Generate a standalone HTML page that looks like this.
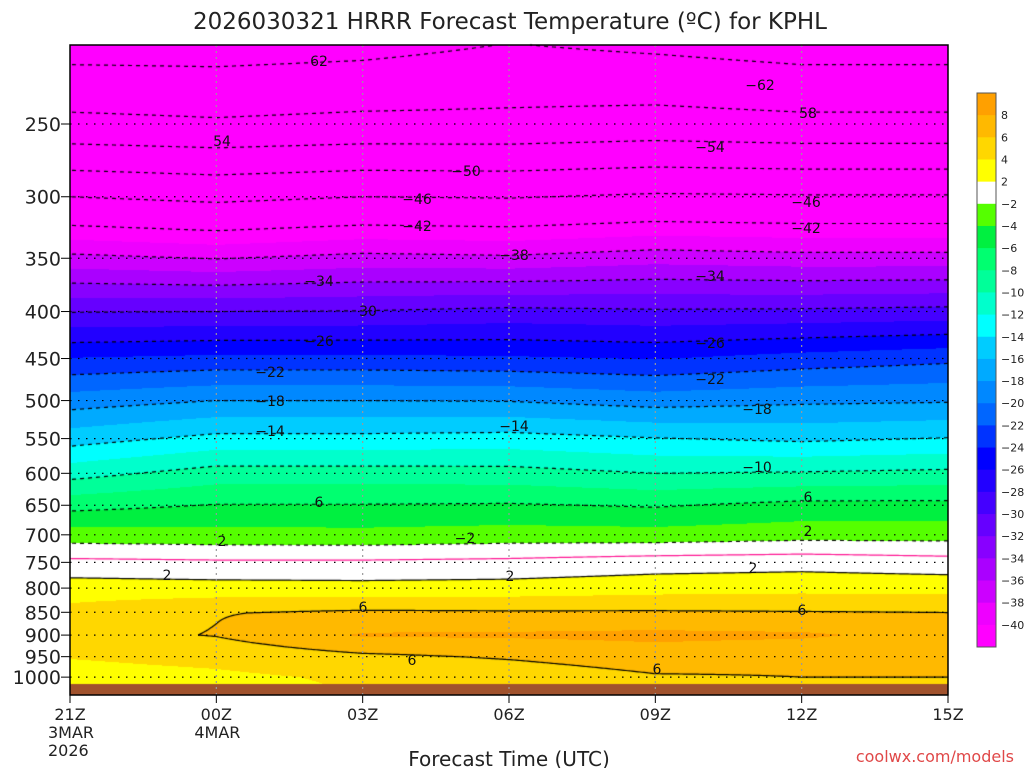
<!DOCTYPE html>
<html><head><meta charset="utf-8">
<style>
html,body{margin:0;padding:0;background:#fff;}
#wrap{position:relative;width:1024px;height:768px;overflow:hidden;font-family:"DejaVu Sans","Liberation Sans",sans-serif;}
canvas,svg{position:absolute;left:0;top:0;}
svg text{font-family:"DejaVu Sans","Liberation Sans",sans-serif;}
</style></head>
<body>
<div id="wrap">
<canvas id="cv" width="1024" height="768"></canvas>
<svg id="sv" width="1024" height="768"></svg>
</div>
<script>
// ---- data ----
const levels = [200,250,300,350,400,450,500,550,600,650,700,750,800,850,900,950,1000,1050];
const hours = [0,3,6,9,12,15,18];
const hourLabels = ["21Z","00Z","03Z","06Z","09Z","12Z","15Z"];
const dateLabels = [["3MAR","2026"],["4MAR"],[],[],[],[],[]];
const pressureTicks = [250,300,350,400,450,500,550,600,650,700,750,800,850,900,950,1000];
const h00 = [-64.5,-57,-46,-37.4,-30.1,-23.9,-19.0,-14.9,-10.8,-6.7,-3.1,0.5,3.0,4.6,5.3,4.1,3.2,2.8];
const h03 = [-64.5,-57.5,-46.8,-38.1,-30,-23.5,-18,-13.4,-9.1,-5.9,-3.3,0.3,2.8,5.9,6.1,4.6,3.6,3.2];
const h06 = [-64.0,-57,-46,-37.3,-29.9,-23.5,-18,-13.4,-9.1,-5.9,-3.4,0.3,2.7,6.3,8.2,5.6,4.3,4.0];
const h09 = [-62.5,-57,-46.2,-37.6,-29.4,-23.7,-18.1,-13.2,-9.2,-5.8,-3.1,0.5,2.8,6.2,8.3,6.2,4.8,4.4];
const h12 = [-63.5,-56.5,-45.5,-36.8,-29.7,-24.1,-18.9,-13.9,-10,-6.2,-3.2,1.0,3.2,6.2,8.5,7.0,5.8,5.0];
const h15 = [-64.5,-57,-45.7,-37.2,-29.6,-23.2,-18.4,-14.4,-9.8,-5.4,-2.8,1.2,3.4,6.1,8.3,6.5,6.0,5.5];
const h18 = [-64.5,-57,-45.7,-37.2,-29.3,-22.5,-18.2,-13.9,-9.5,-5.4,-2.8,0.8,3.3,6.0,7.3,6.5,6.0,5.5];
const tempsByTime = [h00,h03,h06,h09,h12,h15,h18];
const colorbarLabels = ["8","6","4","2","-2","-4","-6","-8","-10","-12","-14","-16","-18","-20","-22","-24","-26","-28","-30","-32","-34","-36","-38","-40"];
const bandColors = ["#ffa000","#ffb900","#ffd700","#ffff00","#ffffff","#55ff00","#00f040","#00ff70","#00ff99","#00ffcc","#00ffff","#00ccff","#00aaff","#0088ff","#0066ff","#0033ff","#0000ff","#2200ff","#4400ff","#6600ff","#8800ff","#aa00ff","#cc00ff","#ee00ff","#ff00ff"];
const contourLevels = [-62,-58,-54,-50,-46,-42,-38,-34,-30,-26,-22,-18,-14,-10,-6,-2,0,2,6,10];

// ---- axes ----
const X0=70,X1=948,Y0=45,Y1=684;
function xOf(h){return X0+(X1-X0)*(h-hours[0])/(hours[hours.length-1]-hours[0]);}
function yOf(p){return 124+399*Math.log(p/250);}
function pOf(y){return 250*Math.exp((y-124)/399);}
function hOf(x){return hours[0]+(x-X0)/(X1-X0)*(hours[hours.length-1]-hours[0]);}
function tempAt(h,p){
  let i=0;while(i<hours.length-2&&h>hours[i+1])i++;
  let ft=(h-hours[i])/(hours[i+1]-hours[i]);ft=Math.max(0,Math.min(1,ft));
  const lp=Math.log(p);
  let j=0;while(j<levels.length-2&&p>levels[j+1])j++;
  let fp=(lp-Math.log(levels[j]))/(Math.log(levels[j+1])-Math.log(levels[j]));fp=Math.max(0,Math.min(1,fp));
  const a=tempsByTime[i],b=tempsByTime[i+1];
  const ta=a[j]+(a[j+1]-a[j])*fp, tb=b[j]+(b[j+1]-b[j])*fp;
  return ta+(tb-ta)*ft;
}
function band(T){
  if(T>=8)return 0;if(T>=6)return 1;if(T>=4)return 2;if(T>=2)return 3;if(T>=-2)return 4;
  if(T<-40)return 24;return 5+Math.floor((-2-T)/2);
}
function hex(c){return [parseInt(c.substr(1,2),16),parseInt(c.substr(3,2),16),parseInt(c.substr(5,2),16)];}
const rgb=bandColors.map(hex);

const cv=document.getElementById('cv');const ctx=cv.getContext('2d');
ctx.fillStyle='#fff';ctx.fillRect(0,0,1024,768);
const W=X1-X0,H=Y1-Y0;
const img=ctx.createImageData(W,H);
for(let y=0;y<H;y++){const p=pOf(Y0+y+0.5);
  for(let x=0;x<W;x++){const T=tempAt(hOf(X0+x+0.5),p);const c=rgb[band(T)];const k=(y*W+x)*4;
    img.data[k]=c[0];img.data[k+1]=c[1];img.data[k+2]=c[2];img.data[k+3]=255;}}
ctx.putImageData(img,X0,Y0);
ctx.fillStyle='#a0522d';ctx.fillRect(X0,Y1,W,695-Y1);

// contours (marching squares)
const S=2;const nx=Math.ceil(W/S)+1,ny=Math.ceil(H/S)+1;const G=[];
for(let j=0;j<ny;j++){const p=pOf(Y0+j*S);const row=[];for(let i=0;i<nx;i++)row.push(tempAt(hOf(X0+i*S),p));G.push(row);}
contourLevels.forEach(L=>{
  ctx.beginPath();
  ctx.strokeStyle=L===0?'#ff1493':'#000';ctx.lineWidth=1.2;
  for(let j=0;j<ny-1;j++)for(let i=0;i<nx-1;i++){
    const x=X0+i*S,y=Y0+j*S;
    if(L<0&&Math.floor(x/4)%2===1)continue;
    const v=[G[j][i],G[j][i+1],G[j+1][i+1],G[j+1][i]];
    const P=[[x,y],[x+S,y],[x+S,y+S],[x,y+S]];const pts=[];
    for(let e=0;e<4;e++){const a=v[e]-L,b=v[(e+1)%4]-L;
      if((a<0)!==(b<0)){const f=a/(a-b);pts.push([P[e][0]+(P[(e+1)%4][0]-P[e][0])*f,P[e][1]+(P[(e+1)%4][1]-P[e][1])*f]);}}
    for(let k=0;k+1<pts.length;k+=2){ctx.moveTo(pts[k][0],pts[k][1]);ctx.lineTo(pts[k+1][0],pts[k+1][1]);}
  }
  ctx.stroke();
});

// ---- SVG overlay ----
const NS='http://www.w3.org/2000/svg';const sv=document.getElementById('sv');
function mk(tag,at,txt){const e=document.createElementNS(NS,tag);for(const k in at)e.setAttribute(k,at[k]);if(txt!==undefined)e.textContent=txt;sv.appendChild(e);return e;}
let t=mk('text',{x:510,y:29,'text-anchor':'middle','font-size':23,fill:'#222'},'2026030321 HRRR Forecast Temperature (ºC) for KPHL');


pressureTicks.forEach(p=>{
  const y=yOf(p);
  const l=mk('line',{x1:X0,x2:X1,y1:y,y2:y,stroke:'#000','stroke-width':1.2,'stroke-dasharray':'1.5 6.5'});
  
  
  const tk=mk('line',{x1:X0-9,x2:X0,y1:y,y2:y,stroke:'#000','stroke-width':1});
  
  
  const lb=mk('text',{x:61,y:y+7,'text-anchor':'end','font-size':19,fill:'#222'},String(p));
  
  
});
hours.forEach((h,i)=>{
  const x=xOf(h);
  if(i>0&&i<hours.length-1){const g=mk('line',{x1:x,x2:x,y1:Y0,y2:695,stroke:'#999','stroke-width':1.2,'stroke-dasharray':'2 4'});
    
    }
  const tk=mk('line',{x1:x,x2:x,y1:695,y2:703,stroke:'#000','stroke-width':1});
  
  
  const lb=mk('text',{x:x,y:720,'text-anchor':'middle','font-size':16,fill:'#222'},hourLabels[i]);
  
  
  dateLabels[i].forEach((d,k)=>{const dl=mk('text',{x:x-22,y:738+k*18,'font-size':16,fill:'#222'},d);
    
    });
});
const fr=mk('rect',{x:X0,y:Y0,width:W,height:695-Y0,fill:'none',stroke:'#000','stroke-width':1.5});


const xt=mk('text',{x:509,y:766,'text-anchor':'middle','font-size':20,fill:'#222'},'Forecast Time (UTC)');


const cr=mk('text',{x:1014,y:762,'text-anchor':'end','font-size':16,fill:'#e04848'},'coolwx.com/models');


const clabels=[[319,66,'62'],[760,90,'−62'],[808,118,'58'],[222,146,'54'],[710,152,'−54'],[466,176,'−50'],[417,204,'−46'],[806,207,'−46'],[417,231,'−42'],[806,233,'−42'],[514,260,'−38'],[319,286,'−34'],[710,281,'−34'],[368,316,'30'],[319,346,'−26'],[710,348,'−26'],[270,377,'−22'],[710,384,'−22'],[270,406,'−18'],[757,414,'−18'],[270,436,'−14'],[514,431,'−14'],[757,472,'−10'],[319,507,'6'],[808,502,'6'],[222,546,'2'],[465,543,'−2'],[808,536,'2'],[167,580,'2'],[510,581,'2'],[753,573,'2'],[363,612,'6'],[802,615,'6'],[412,665,'6'],[657,674,'6']];
clabels.forEach(c=>{const e=mk('text',{x:c[0],y:c[1],'text-anchor':'middle','font-size':14,fill:'#111'},c[2]);
  
  });
const CB0=93,CBH=554,cell=CBH/bandColors.length;
bandColors.forEach((c,i)=>{const r=mk('rect',{x:977,y:CB0+i*cell,width:19,height:cell+0.5,fill:c});
  
  });
const cbf=mk('rect',{x:977,y:CB0,width:19,height:CBH,fill:'none',stroke:'#555','stroke-width':1});


colorbarLabels.forEach((s,i)=>{const y=CB0+(i+1)*cell;
  const l=mk('text',{x:1001,y:y+4,'font-size':11,fill:'#222'},s.replace('-','−'));
  
  });
</script>
</body></html>
